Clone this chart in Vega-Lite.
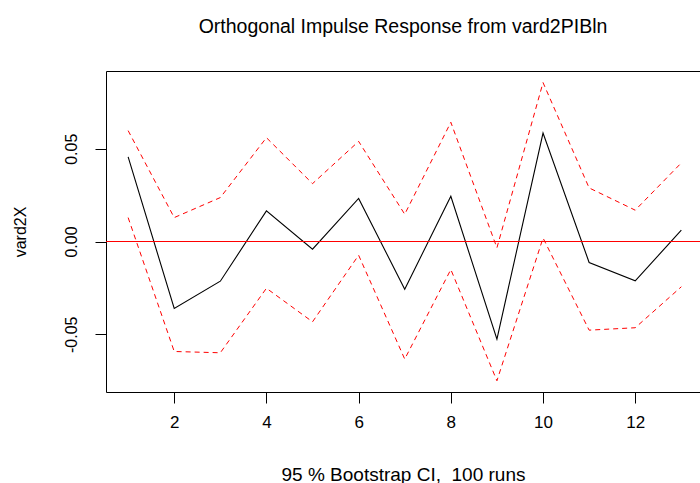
{
  "$schema": "https://vega.github.io/schema/vega-lite/v6.json",
  "width": 594,
  "height": 321,
  "autosize": {"type": "none"},
  "padding": {"left": 106, "top": 71, "right": 0, "bottom": 91},
  "background": "white",
  "title": {
    "text": "Orthogonal Impulse Response from vard2PIBln",
    "font": "Liberation Sans",
    "fontSize": 19.5,
    "fontWeight": "normal",
    "color": "#000000",
    "baseline": "alphabetic",
    "anchor": "middle",
    "offset": 19
  },
  "data": {
    "values": [
      {"step": 1, "irf": 0.0456, "lower": 0.0129, "upper": 0.0598},
      {"step": 2, "irf": -0.0361, "lower": -0.0593, "upper": 0.0129},
      {"step": 3, "irf": -0.0214, "lower": -0.0600, "upper": 0.0237},
      {"step": 4, "irf": 0.0165, "lower": -0.0252, "upper": 0.0560},
      {"step": 5, "irf": -0.0041, "lower": -0.0433, "upper": 0.0312},
      {"step": 6, "irf": 0.0232, "lower": -0.0074, "upper": 0.0540},
      {"step": 7, "irf": -0.0257, "lower": -0.0634, "upper": 0.0147},
      {"step": 8, "irf": 0.0244, "lower": -0.0151, "upper": 0.0643},
      {"step": 9, "irf": -0.0526, "lower": -0.0751, "upper": -0.0034},
      {"step": 10, "irf": 0.0585, "lower": 0.0019, "upper": 0.0857},
      {"step": 11, "irf": -0.0113, "lower": -0.0478, "upper": 0.0289},
      {"step": 12, "irf": -0.0212, "lower": -0.0465, "upper": 0.0169},
      {"step": 13, "irf": 0.0061, "lower": -0.0244, "upper": 0.0424}
    ]
  },
  "resolve": {"axis": {"x": "independent"}},
  "layer": [
    {
      "mark": {"type": "line", "color": "#FF0000", "strokeWidth": 1, "strokeDash": [5, 4]},
      "encoding": {
        "x": {
          "field": "step", "type": "quantitative",
          "scale": {"domain": [0.52, 13.405], "nice": false, "zero": false},
          "axis": {
            "orient": "bottom",
            "values": [2, 4, 6, 8, 10, 12],
            "grid": false,
            "domainColor": "#000000",
            "tickColor": "#000000",
            "tickSize": 11,
            "labelColor": "#000000",
            "labelFont": "Liberation Sans",
            "labelFontSize": 17,
            "labelBaseline": "alphabetic",
            "labelPadding": 24,
            "title": "95 % Bootstrap CI, \u00a0100 runs",
            "titleFont": "Liberation Sans",
            "titleFontSize": 19,
            "titleFontWeight": "normal",
            "titleColor": "#000000",
            "titleBaseline": "alphabetic",
            "titleY": 88
          }
        },
        "y": {
          "field": "upper", "type": "quantitative",
          "scale": {"domain": [-0.08115, 0.09195], "nice": false, "zero": false},
          "title": "vard2X",
          "axis": {
            "values": [-0.05, 0, 0.05],
            "labelExpr": "datum.value < 0 ? '-' + format(-datum.value, '.2f') : format(datum.value, '.2f')",
            "grid": false,
            "domainColor": "#000000",
            "tickColor": "#000000",
            "tickSize": 11,
            "labelColor": "#000000",
            "labelFont": "Liberation Sans",
            "labelFontSize": 16,
            "labelAngle": -90,
            "labelAlign": "center",
            "labelBaseline": "bottom",
            "labelPadding": 16,
            "titleFont": "Liberation Sans",
            "titleFontSize": 16,
            "titleFontWeight": "normal",
            "titleColor": "#000000",
            "titleAngle": -90,
            "titleAlign": "center",
            "titleBaseline": "middle",
            "titleX": -86,
            "titleY": 160.5
          }
        }
      }
    },
    {
      "mark": {"type": "line", "color": "#FF0000", "strokeWidth": 1, "strokeDash": [5, 4]},
      "encoding": {
        "x": {"field": "step", "type": "quantitative", "axis": null},
        "y": {"field": "lower", "type": "quantitative", "title": "vard2X"}
      }
    },
    {
      "mark": {"type": "line", "color": "#000000", "strokeWidth": 1.1},
      "encoding": {
        "x": {
          "field": "step", "type": "quantitative",
          "axis": {"orient": "top", "labels": false, "ticks": false, "grid": false, "domainColor": "#000000", "title": null}
        },
        "y": {"field": "irf", "type": "quantitative", "title": "vard2X"}
      }
    },
    {
      "mark": {"type": "rule", "stroke": "#FF0000", "color": "#FF0000", "strokeWidth": 1, "opacity": 1},
      "encoding": {
        "y": {"datum": 0, "type": "quantitative", "title": "vard2X"},
        "x": {"datum": 0.52, "type": "quantitative", "axis": null},
        "x2": {"datum": 13.405}
      }
    }
  ],
  "config": {
    "font": "Liberation Sans",
    "view": {"stroke": null},
    "axis": {"grid": false}
  }
}
